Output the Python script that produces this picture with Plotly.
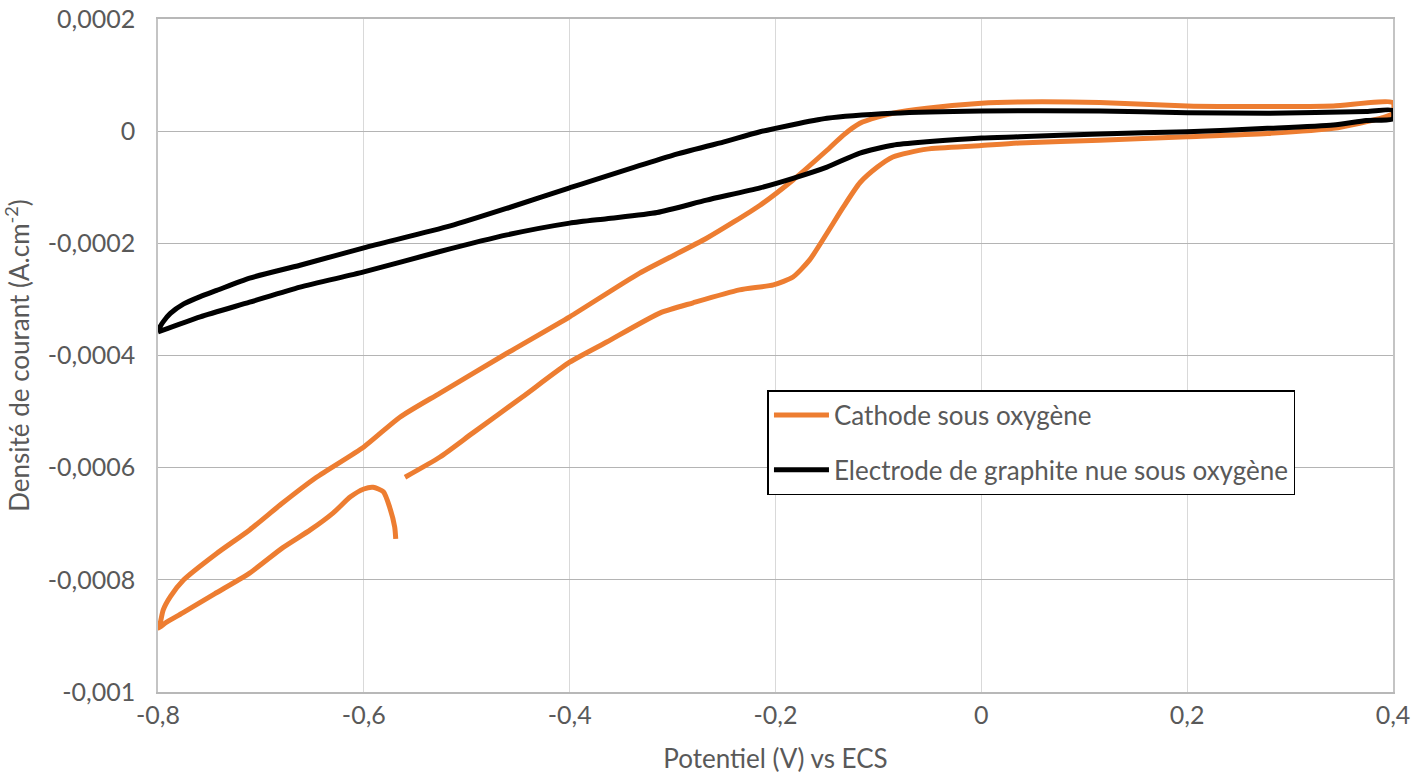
import plotly.graph_objects as go

# ---- data (current density in 1e-4 A.cm-2, potential in V vs ECS) ----
cathode_x = [
    -0.569, -0.570, -0.575, -0.581, -0.591, -0.600, -0.613, -0.630, -0.652, -0.679, -0.711, -0.745, -0.776, -0.792, -0.800,
    -0.798, -0.795, -0.788, -0.775, -0.743, -0.711, -0.679, -0.646, -0.600, -0.565, -0.526, -0.461, -0.400, -0.332, -0.267,
    -0.215, -0.183, -0.150, -0.134, -0.118, -0.101, -0.086, -0.053, 0.000, 0.037, 0.115, 0.200, 0.278, 0.342, 0.400,
    0.400, 0.390, 0.342, 0.278, 0.200, 0.115, 0.037, -0.002, -0.053, -0.086, -0.101, -0.118, -0.134, -0.150,
    -0.167, -0.183, -0.202, -0.235, -0.280, -0.312, -0.364, -0.400, -0.446, -0.494, -0.526, -0.560,
]
cathode_y_e4 = [
    -7.27, -7.06, -6.70, -6.43, -6.35, -6.38, -6.52, -6.81, -7.11, -7.43, -7.88, -8.25, -8.59, -8.76, -8.86,
    -8.78, -8.54, -8.30, -8.00, -7.53, -7.11, -6.63, -6.17, -5.63, -5.10, -4.67, -3.96, -3.31, -2.53, -1.91,
    -1.32, -0.87, -0.34, -0.07, 0.14, 0.25, 0.32, 0.41, 0.50, 0.52, 0.51, 0.45, 0.44, 0.45, 0.51,
    0.32, 0.24, 0.05, -0.04, -0.10, -0.16, -0.21, -0.26, -0.32, -0.46, -0.64, -0.92, -1.35, -1.82,
    -2.30, -2.60, -2.74, -2.83, -3.06, -3.24, -3.76, -4.12, -4.74, -5.38, -5.81, -6.17,
]

graphite_x = [
    -0.800, -0.795, -0.788, -0.775, -0.759, -0.743, -0.711, -0.662, -0.600, -0.516, -0.460, -0.400, -0.300, -0.250,
    -0.215, -0.150, -0.086, 0.000, 0.115, 0.200, 0.278, 0.374, 0.400,
    0.400, 0.374, 0.342, 0.278, 0.200, 0.115, 0.037, 0.000, -0.053, -0.086, -0.118, -0.150, -0.183, -0.215,
    -0.267, -0.315, -0.364, -0.400, -0.461, -0.527, -0.600, -0.662, -0.711, -0.759, -0.800,
]
graphite_y_e4 = [
    -3.55, -3.40, -3.25, -3.08, -2.95, -2.84, -2.62, -2.39, -2.08, -1.69, -1.37, -1.01, -0.43, -0.19,
    -0.01, 0.23, 0.32, 0.36, 0.36, 0.33, 0.32, 0.35, 0.37,
    0.22, 0.19, 0.11, 0.05, -0.01, -0.05, -0.10, -0.12, -0.19, -0.25, -0.39, -0.64, -0.84, -1.01,
    -1.23, -1.45, -1.56, -1.64, -1.85, -2.15, -2.51, -2.78, -3.05, -3.31, -3.58,
]

series_names = ["Cathode sous oxygène", "Electrode de graphite nue sous oxygène"]

x_tick_vals = [-0.8, -0.6, -0.4, -0.2, 0.0, 0.2, 0.4]
x_tick_text = ["-0,8", "-0,6", "-0,4", "-0,2", "0", "0,2", "0,4"]
y_tick_vals = [0.0002, 0.0, -0.0002, -0.0004, -0.0006, -0.0008, -0.001]
y_tick_text = ["0,0002", "0", "-0,0002", "-0,0004", "-0,0006", "-0,0008", "-0,001"]

FONT = "Lato"
GREY = "#595959"
EPS_X = 1e-7
EPS_Y = 1e-10

fig = go.Figure()
fig.add_trace(go.Scatter(
    x=cathode_x, y=[v * 1e-4 for v in cathode_y_e4],
    mode="lines", name=series_names[0], legendgroup="a",
    line=dict(color="#ED7D31", width=5, shape="spline", smoothing=0.6),
))
fig.add_trace(go.Scatter(
    x=graphite_x, y=[v * 1e-4 for v in graphite_y_e4],
    mode="lines", name=series_names[1], legendgroup="b",
    line=dict(color="#000000", width=5, shape="spline", smoothing=0.6),
))

fig.update_layout(
    width=1427, height=774,
    margin=dict(l=158, r=34, t=19, b=82),
    paper_bgcolor="white", plot_bgcolor="white",
    font=dict(family=FONT, color=GREY, size=25),
    showlegend=True,
    legend=dict(
        x=0.4935, y=0.4487, xanchor="left", yanchor="top",
        bgcolor="white", bordercolor="black", borderwidth=1.5,
        font=dict(family=FONT, size=26, color=GREY),
        traceorder="grouped", tracegroupgap=18,
        itemwidth=55,
    ),
    xaxis=dict(
        range=[-0.8 - EPS_X, 0.4 + EPS_X], tickvals=x_tick_vals, ticktext=x_tick_text,
        showgrid=True, gridcolor="#d9d9d9", gridwidth=1.3,
        showline=True, linecolor="#b8b8b8", linewidth=1.5, mirror=True,
        zeroline=False, ticks="", automargin=False, ticklabeloverflow="allow",
        title=dict(text="Potentiel (V) vs ECS", font=dict(size=26, color=GREY), standoff=23),
        tickfont=dict(size=25, color=GREY),
    ),
    yaxis=dict(
        range=[-0.001 - EPS_Y, 0.0002 + EPS_Y], tickvals=y_tick_vals, ticktext=y_tick_text,
        showgrid=True, gridcolor="#b4b4b4", gridwidth=1.3,
        showline=True, linecolor="#c4c4c4", linewidth=1.5, mirror=True,
        zeroline=False, ticks="", automargin=False, ticklabelstandoff=16,
        ticklabeloverflow="allow",
        title=dict(text="Densité de courant (A.cm<sup>-2</sup>)", font=dict(size=26, color=GREY), standoff=17),
        tickfont=dict(size=25, color=GREY),
    ),
)

fig.write_html(
    "out.html",
    config={"displayModeBar": False},
    post_script="document.body.style.margin='0';document.body.style.overflow='hidden';",
)
